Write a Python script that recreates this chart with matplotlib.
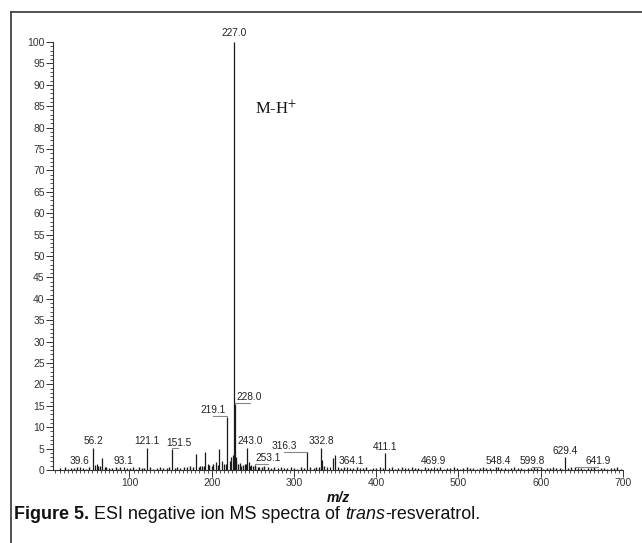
import matplotlib
matplotlib.use("Agg")
import matplotlib.pyplot as plt
from matplotlib.lines import Line2D
from matplotlib.ticker import MultipleLocator

# ---------------- data ----------------
peak_mz = [39.6, 56.2, 93.1, 121.1, 151.5, 219.1, 227.0, 228.0, 243.0, 253.1,
           316.3, 332.8, 364.1, 411.1, 469.9, 548.4, 599.8, 629.4, 641.9]
peak_int = [0.7, 5.2, 0.7, 5.2, 4.9, 12.5, 100.0, 15.5, 5.2, 1.2,
            4.1, 5.2, 0.6, 3.9, 0.6, 0.6, 0.6, 3.0, 0.6]
peak_labels = ["39.6", "56.2", "93.1", "121.1", "151.5", "219.1", "227.0", "228.0",
               "243.0", "253.1", "316.3", "332.8", "364.1", "411.1", "469.9",
               "548.4", "599.8", "629.4", "641.9"]

# unlabelled minor peaks
minor_mz = [58, 60, 62, 66, 181, 186, 192, 195, 200, 205, 209, 212, 215, 222, 224,
            226, 229, 230, 232, 236, 240, 245, 248, 250, 258, 334.5, 340, 344, 348, 350]
minor_int = [1.2, 1.5, 1.0, 2.8, 3.7, 1.0, 4.2, 1.5, 1.0, 1.8, 4.9, 2.0, 1.5, 2.0, 3.0,
             3.5, 3.0, 2.0, 1.5, 1.0, 1.5, 1.8, 1.2, 1.0, 0.8, 2.3, 0.7, 0.8, 2.8, 3.5]

# baseline noise
noise_mz = [16, 21, 25, 29, 33, 36, 43, 47, 51, 64, 70, 72, 75, 79, 83, 86, 89, 97,
            101, 104, 108, 112, 115, 118, 125, 129, 133, 137, 141, 145, 148, 155,
            158, 162, 166, 170, 174, 177, 184, 188, 190, 197, 202, 207, 217, 234,
            238, 242, 247, 252, 256, 261, 264, 268, 272, 276, 280, 284, 288, 292,
            296, 300, 304, 308, 312, 320, 324, 327, 330, 337, 353, 357, 361, 368,
            372, 376, 380, 384, 388, 392, 396, 400, 404, 408, 415, 419, 423, 427,
            431, 435, 439, 443, 447, 451, 455, 459, 463, 466, 474, 478, 482, 486,
            490, 494, 498, 502, 506, 510, 514, 518, 522, 526, 530, 534, 538, 542,
            546, 552, 556, 560, 564, 568, 572, 576, 580, 584, 588, 592, 596, 603,
            607, 611, 615, 619, 623, 626, 633, 637, 645, 649, 653, 657, 661, 665,
            669, 673, 677, 681, 685, 689, 693, 697]
noise_int = [0.4, 0.6, 0.3, 0.5, 0.4, 0.7, 0.5, 0.3, 0.6, 0.9, 0.6, 0.8, 0.5, 0.4,
             0.6, 0.3, 0.7, 0.5, 0.4, 0.8, 0.3, 0.6, 0.5, 0.4, 0.7, 0.3, 0.5, 0.6,
             0.4, 0.5, 0.7, 0.4, 0.6, 0.5, 0.8, 0.6, 0.9, 0.7, 0.8, 1.0, 0.9, 1.1,
             1.3, 1.2, 1.4, 1.6, 1.2, 1.3, 1.0, 0.9, 0.8, 0.7, 0.9, 0.6, 0.5, 0.7,
             0.4, 0.6, 0.5, 0.4, 0.6, 0.5, 0.3, 0.6, 0.5, 0.7, 0.4, 0.8, 0.6, 0.9,
             0.7, 0.5, 0.6, 0.4, 0.5, 0.7, 0.4, 0.5, 0.6, 0.3, 0.5, 0.4, 0.6, 0.5,
             0.4, 0.6, 0.3, 0.5, 0.7, 0.4, 0.5, 0.6, 0.4, 0.5, 0.3, 0.6, 0.4, 0.5,
             0.4, 0.6, 0.3, 0.5, 0.4, 0.6, 0.5, 0.3, 0.4, 0.6, 0.5, 0.4, 0.3, 0.5,
             0.6, 0.4, 0.5, 0.3, 0.6, 0.4, 0.5, 0.3, 0.4, 0.6, 0.5, 0.4, 0.3, 0.5,
             0.4, 0.6, 0.5, 0.3, 0.4, 0.5, 0.6, 0.4, 0.5, 0.3, 0.4, 0.6, 0.5, 0.4,
             0.3, 0.5, 0.4, 0.6, 0.3, 0.5, 0.4, 0.3, 0.5, 0.4, 0.6, 0.3]

y_ticks = list(range(0, 101, 5))
x_ticks = [100, 200, 300, 400, 500, 600, 700]

caption_parts = ["Figure 5.", " ESI negative ion MS spectra of ", "trans", "-resveratrol."]

# ---------------- layout / styling ----------------
label_dx = {"151.5": 8, "219.1": -17.6, "228.0": 18, "243.0": 4, "253.1": 15,
            "316.3": -28, "364.1": 6, "599.8": -10, "641.9": 28}
label_dy = {"227.0": 0.9}
caption_styles = [("bold", "normal"), ("normal", "normal"), ("normal", "italic"),
                  ("normal", "normal")]

sans = "Liberation Sans"
serif = "Liberation Serif"
plt.rcParams["font.family"] = [sans, "DejaVu Sans"]
plt.rcParams["mathtext.fontset"] = "stix"

W, H = 642, 543
fig = plt.figure(figsize=(W / 100, H / 100), dpi=100)
ax = fig.add_axes([53 / W, 1 - 470 / H, (623 - 53) / W, (470 - 42) / H])

ink = "#1a1a1a"
ax.vlines(noise_mz, 0, noise_int, color=ink, lw=1.0)
ax.vlines(minor_mz, 0, minor_int, color=ink, lw=0.9)
ax.vlines(peak_mz, 0, peak_int, color=ink, lw=0.9)

for mz, it, lab in zip(peak_mz, peak_int, peak_labels):
    dx = label_dx.get(lab, 0)
    dy = label_dy.get(lab, 0.35)
    ax.text(mz + dx, it + dy, lab, ha="center", va="bottom", fontsize=7.3,
            color="#222222", clip_on=False)
    if abs(dx) >= 8:
        ax.plot([mz, mz + dx], [it + 0.2, it + 0.2], color="#888888", lw=0.8,
                clip_on=False)

ax.text(253, 83.1, r"M-H$^{+}$", family=serif, fontsize=12, color="#111111",
        ha="left", va="baseline")

ax.set_xlim(7, 700)
ax.set_ylim(0, 100)
for s in ("top", "right"):
    ax.spines[s].set_visible(False)
for s in ("left", "bottom"):
    ax.spines[s].set_color("#333333")
    ax.spines[s].set_linewidth(0.8)

ax.set_yticks(y_ticks)
ax.set_yticklabels([str(v) for v in y_ticks])
ax.yaxis.set_minor_locator(MultipleLocator(1))
ax.set_xticks(x_ticks)
ax.set_xticklabels([str(v) for v in x_ticks])
ax.xaxis.set_minor_locator(MultipleLocator(5))
ax.tick_params(axis="both", which="major", direction="out", length=5, width=0.7,
               colors="#333333", labelsize=7.5, pad=1)
ax.tick_params(axis="both", which="minor", direction="out", length=2.5, width=0.6,
               colors="#333333")
ax.set_xlabel("m/z", fontsize=10, fontweight="bold", fontstyle="italic",
              labelpad=2, color="#111111")

# outer frame (top and left lines)
fig.add_artist(Line2D([11 / W, 1], [1 - 12 / H, 1 - 12 / H], color="#444444",
                      lw=1.3, transform=fig.transFigure))
fig.add_artist(Line2D([11 / W, 11 / W], [0, 1 - 12 / H], color="#444444",
                      lw=1.3, transform=fig.transFigure))

# caption built piecewise, sized to span the reference width
fig.canvas.draw()
renderer = fig.canvas.get_renderer()
target_w = 464.0
probe = 13.0
total = 0.0
for txt, (wgt, sty) in zip(caption_parts, caption_styles):
    t = fig.text(0, 0, txt, fontsize=probe, fontweight=wgt, fontstyle=sty)
    total += t.get_window_extent(renderer).width
    t.remove()
size = probe * target_w / total
x = 14 / W
yb = 1 - 519 / H
for txt, (wgt, sty) in zip(caption_parts, caption_styles):
    t = fig.text(x, yb, txt, fontsize=size, fontweight=wgt, fontstyle=sty,
                 va="baseline", ha="left", color="#111111")
    x += t.get_window_extent(renderer).width / W

fig.savefig("out.png", dpi=100)
